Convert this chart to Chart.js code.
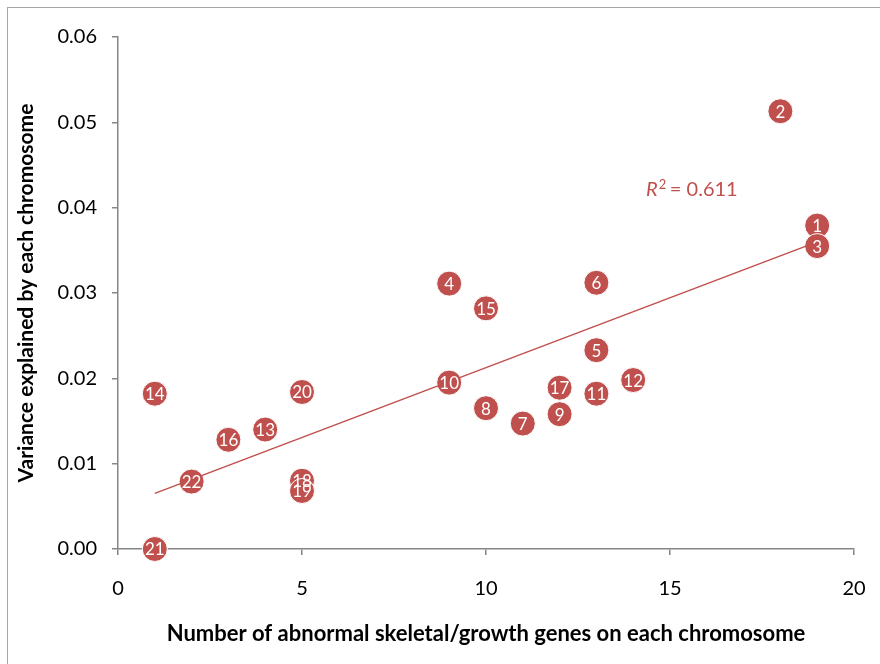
<!DOCTYPE html>
<html>
<head>
<meta charset="utf-8">
<script src="https://cdn.jsdelivr.net/npm/chart.js@4.4.1/dist/chart.umd.min.js"></script>
<style>
  html, body { margin: 0; padding: 0; background: #fff; }
  #wrap { width: 880px; height: 664px; }
</style>
</head>
<body>
<div id="wrap"><canvas id="chromChart" width="880" height="664"></canvas></div>
<script>
// chromosome number, gene count, variance explained
const chromosomes = ['1', '2', '3', '4', '5', '6', '7', '8', '9', '10', '11',
                     '12', '13', '14', '15', '16', '17', '18', '19', '20', '21', '22'];
const geneCounts = [19, 18, 19, 9, 13, 13, 11, 10, 12, 9, 13, 14, 4, 1, 10, 3, 12, 5, 5, 5, 1, 2];
const variance = [0.0379, 0.0513, 0.0355, 0.0311, 0.0233, 0.0312, 0.0147, 0.0165, 0.0158, 0.0195, 0.0182,
                  0.0198, 0.0140, 0.0182, 0.0282, 0.0128, 0.0189, 0.0080, 0.0068, 0.0184, 0.0000, 0.0079];
const xTicks = [0, 5, 10, 15, 20];
const yTicks = [0, 0.01, 0.02, 0.03, 0.04, 0.05, 0.06];

const red = '#C0504D';
const font = 'Lato, Calibri, "Liberation Sans", sans-serif';

// least squares trend line over the points
const n = geneCounts.length;
const mx = geneCounts.reduce((a, b) => a + b, 0) / n;
const my = variance.reduce((a, b) => a + b, 0) / n;
let sxy = 0, sxx = 0;
for (let i = 0; i < n; i++) {
  sxy += (geneCounts[i] - mx) * (variance[i] - my);
  sxx += (geneCounts[i] - mx) ** 2;
}
const slope = sxy / sxx;
const icept = my - slope * mx;
const xMin = Math.min(...geneCounts), xMax = Math.max(...geneCounts);
const trend = [{ x: xMin, y: icept + slope * xMin }, { x: xMax, y: icept + slope * xMax }];

const points = geneCounts.map((x, i) => ({ x: x, y: variance[i] }));

const extras = {
  id: 'extras',
  beforeDraw(chart) {
    const c = chart.ctx;
    c.save();
    c.fillStyle = '#fff';
    c.fillRect(0, 0, chart.width, chart.height);
    c.strokeStyle = '#a6a6a6';
    c.lineWidth = 1;
    c.strokeRect(7.5, 7.5, chart.width + 10, chart.height + 10);
    c.restore();
  },
  afterDatasetsDraw(chart) {
    const c = chart.ctx;
    const meta = chart.getDatasetMeta(1);
    c.save();
    c.fillStyle = '#fff';
    c.font = '17px ' + font;
    c.textAlign = 'center';
    c.textBaseline = 'middle';
    meta.data.forEach((pt, i) => {
      c.fillText(chromosomes[i], pt.x, pt.y + 1);
    });
    // R squared note
    const xs = chart.scales.x, ys = chart.scales.y;
    const tx = xs.getPixelForValue(14.35), ty = ys.getPixelForValue(0.0421);
    c.fillStyle = red;
    c.textAlign = 'left';
    c.font = 'italic 20px ' + font;
    c.fillText('R', tx, ty);
    const rw = c.measureText('R').width;
    c.font = '13px ' + font;
    c.fillText('2', tx + rw + 1, ty - 5);
    c.font = '20px ' + font;
    c.fillText(' = 0.611', tx + rw + 7, ty);
    c.restore();
  }
};

new Chart(document.getElementById('chromChart'), {
  type: 'scatter',
  data: {
    datasets: [
      {
        type: 'line',
        data: trend,
        borderColor: red,
        borderWidth: 1.5,
        pointRadius: 0,
        fill: false
      },
      {
        data: points,
        backgroundColor: red,
        borderColor: '#fff',
        borderWidth: 1,
        pointRadius: 12.5,
        pointHoverRadius: 12.5,
        clip: false
      }
    ]
  },
  plugins: [extras],
  options: {
    responsive: false,
    animation: false,
    layout: { padding: { top: 37, right: 26, left: 8, bottom: 0 } },
    plugins: { legend: { display: false }, tooltip: { enabled: false } },
    scales: {
      x: {
        type: 'linear',
        min: 0,
        max: 20,
        afterBuildTicks: (s) => { s.ticks = xTicks.map(v => ({ value: v })); },
        ticks: { color: '#000', font: { family: font, size: 20 }, padding: 22 },
        grid: { drawOnChartArea: false, drawTicks: true, tickLength: 6, color: '#868686', lineWidth: 1.5 },
        border: { color: '#868686', width: 1.5 },
        title: {
          display: true,
          text: 'Number of abnormal skeletal/growth genes on each chromosome',
          color: '#000',
          font: { family: font, size: 22, weight: 'bold' },
          padding: { top: 10, bottom: 17 }
        },
        afterFit: (s) => { s.height = 115; s.paddingLeft = 0; s.paddingRight = 0; }
      },
      y: {
        type: 'linear',
        min: 0,
        max: 0.06,
        afterBuildTicks: (s) => { s.ticks = yTicks.map(v => ({ value: v })); },
        ticks: { color: '#000', font: { family: font, size: 20 }, padding: 15, callback: (v) => v.toFixed(2) },
        grid: { drawOnChartArea: false, drawTicks: true, tickLength: 6, color: '#868686', lineWidth: 1.5 },
        border: { color: '#868686', width: 1.5 },
        title: {
          display: true,
          text: 'Variance explained by each chromosome',
          color: '#000',
          font: { family: font, size: 21, weight: 'bold' },
          padding: { top: 6, bottom: 4 }
        },
        afterFit: (s) => { s.width = 110; s.paddingTop = 0; s.paddingBottom = 0; }
      }
    }
  }
});
</script>
</body>
</html>
